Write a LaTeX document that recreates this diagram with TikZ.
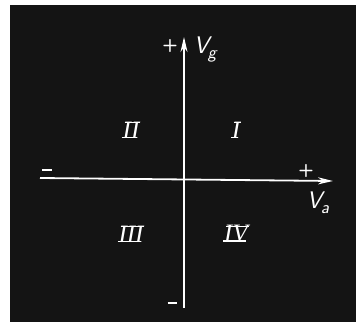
\documentclass[tikz,border=0pt]{standalone}
\usepackage{fontspec}
\usetikzlibrary{arrows.meta}
\newfontfamily\numfont{Liberation Serif}
\newcommand\barnum[1]{\setbox0\hbox{\numfont\itshape #1}\rlap{\kern2pt\rule[\dimexpr\ht0-1.5pt\relax]{\dimexpr\wd0-1pt\relax}{1.5pt}}\rlap{\kern-1pt\rule{\dimexpr\wd0-1pt\relax}{1.5pt}}\box0}
\begin{document}
\begin{tikzpicture}[x=1pt,y=-1pt,
  axis/.style={draw=white,line width=1.8pt,-{Stealth[length=15pt,width=7pt]}},
  quad/.style={text=white,font=\fontsize{25}{25}\selectfont,inner sep=0pt},
  sgn/.style={text=white,font=\sffamily\bfseries\fontsize{18}{18}\selectfont,inner sep=0pt},
  vlab/.style={text=white,font=\sffamily\itshape\fontsize{24}{24}\selectfont,inner sep=0pt}]
\useasboundingbox (0,0) rectangle (356,329);
\fill[white] (0,0) rectangle (356,329);
\fill[black!92] (10,5) rectangle (356,322);
\coordinate (o) at (184,179);
\coordinate (xl) at (40,178);
\coordinate (xr) at (333,181);
\coordinate (yb) at (184,308);
\coordinate (yt) at (184,37);
\draw[axis] (xl) -- (xr);
\draw[axis] (yb) -- (yt);
\node[sgn] (pv) at (170,46) {+};
\node[vlab] (vg) at (205,50) {V\kern-1pt\raisebox{-5pt}{\fontsize{18}{18}\selectfont g}};
\node[sgn] (mh) at (47,170) {\rule{10pt}{1.8pt}};
\node[sgn] (ph) at (306,171) {+};
\node[vlab] (va) at (318,203) {V\kern-1pt\raisebox{-5pt}{\fontsize{18}{18}\selectfont a}};
\node[sgn] (mv) at (172,303) {\rule{9pt}{1.6pt}};
\node[quad] (q2) at (131,130) {\barnum{II}};
\node[quad] (q1) at (236,130) {\barnum{I}};
\node[quad] (q3) at (131,234) {\barnum{III}};
\node[quad] (q4) at (236,234) {\barnum{IV}};
\end{tikzpicture}
\end{document}
